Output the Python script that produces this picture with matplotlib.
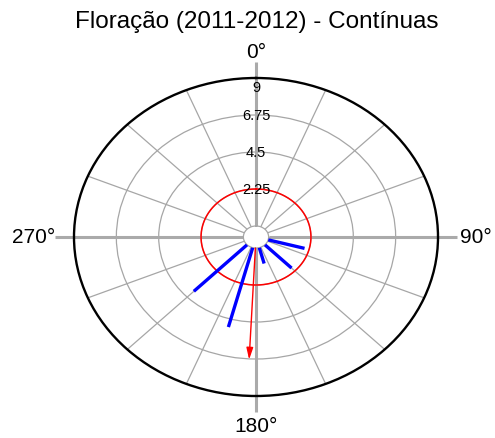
import matplotlib
matplotlib.use("Agg")
import matplotlib.pyplot as plt
import numpy as np

plt.rcParams['font.family'] = ['Liberation Sans', 'DejaVu Sans']

# flowering records per direction (degrees, clockwise from north)
angles_deg = [105, 135, 165, 195, 225]
counts = [2, 2, 1, 5, 4]

r_max = 9
r_ticks = [2.25, 4.5, 6.75, 9]
r_tick_labels = ['2.25', '4.5', '6.75', '9']
ref_circle = 2.25
compass_labels = ['0°', '90°', '180°', '270°']

# mean resultant vector
th = np.deg2rad(angles_deg)
w = np.array(counts, dtype=float)
S = np.sum(w * np.sin(th))
C = np.sum(w * np.cos(th))
mean_dir = np.arctan2(S, C)
rbar = np.hypot(S, C) / w.sum()

fig = plt.figure(figsize=(4.95, 4.39), dpi=100)
ax = fig.add_axes([74/495, 42/439, 364/495, 318/439], projection='polar')
ax.set_aspect('auto')
ax.set_theta_zero_location('N')
ax.set_theta_direction(-1)
ax.set_ylim(0, r_max)
ax.set_rorigin(-0.67)

grid_col = '#a6a6a6'
ax.set_thetagrids(np.arange(0, 360, 22.5), labels=[])
ax.set_yticks(r_ticks[:-1])
ax.set_yticklabels([])
ax.grid(True, color=grid_col, linewidth=0.9)
ax.tick_params(length=0)
ax.spines['start'].set_visible(False)
ax.spines['end'].set_visible(False)
ax.spines['inner'].set_color(grid_col)
ax.spines['inner'].set_linewidth(0.9)
ax.spines['polar'].set_linewidth(1.7)
ax.spines['polar'].set_color('black')

full = np.linspace(0, 2*np.pi, 361)

# main axes
for a in [0, 90, 180, 270]:
    ax.plot([np.deg2rad(a)]*2, [0, 10.0], color='#aaaaaa', lw=2.2,
            clip_on=False, zorder=2, solid_capstyle='butt')

# reference circle
ax.plot(full, np.full_like(full, ref_circle), color='red', lw=1.1, zorder=3)

# counts
for a, c in zip(angles_deg, counts):
    ax.plot([np.deg2rad(a)]*2, [0, c], color='blue', lw=2.4, zorder=4,
            solid_capstyle='butt')

# mean direction arrow
ax.annotate('', xy=(mean_dir, rbar * r_max), xytext=(mean_dir, 0),
            arrowprops=dict(arrowstyle='-|>,head_length=0.7,head_width=0.2',
                            color='red', lw=1.0, shrinkA=0, shrinkB=0),
            zorder=5)

# radial labels along the north axis
for r, lab in zip(r_ticks, r_tick_labels):
    rr = r if r < r_max else r - 0.55
    ax.text(0, rr, lab, ha='center', va='center', fontsize=10.5, zorder=6)

# compass labels
ax.text(0, 10.6, compass_labels[0], ha='center', va='center', fontsize=15, clip_on=False)
ax.text(np.pi/2, 10.15, compass_labels[1], ha='left', va='center', fontsize=15, clip_on=False)
ax.text(np.pi, 10.8, compass_labels[2], ha='center', va='center', fontsize=15, clip_on=False)
ax.text(3*np.pi/2, 9.97, compass_labels[3], ha='right', va='center', fontsize=15, clip_on=False)

fig.text(257/495, 1 - 22/439, 'Floração (2011-2012) - Contínuas',
         ha='center', va='center', fontsize=17.5)

fig.savefig('out.png', dpi=100)
